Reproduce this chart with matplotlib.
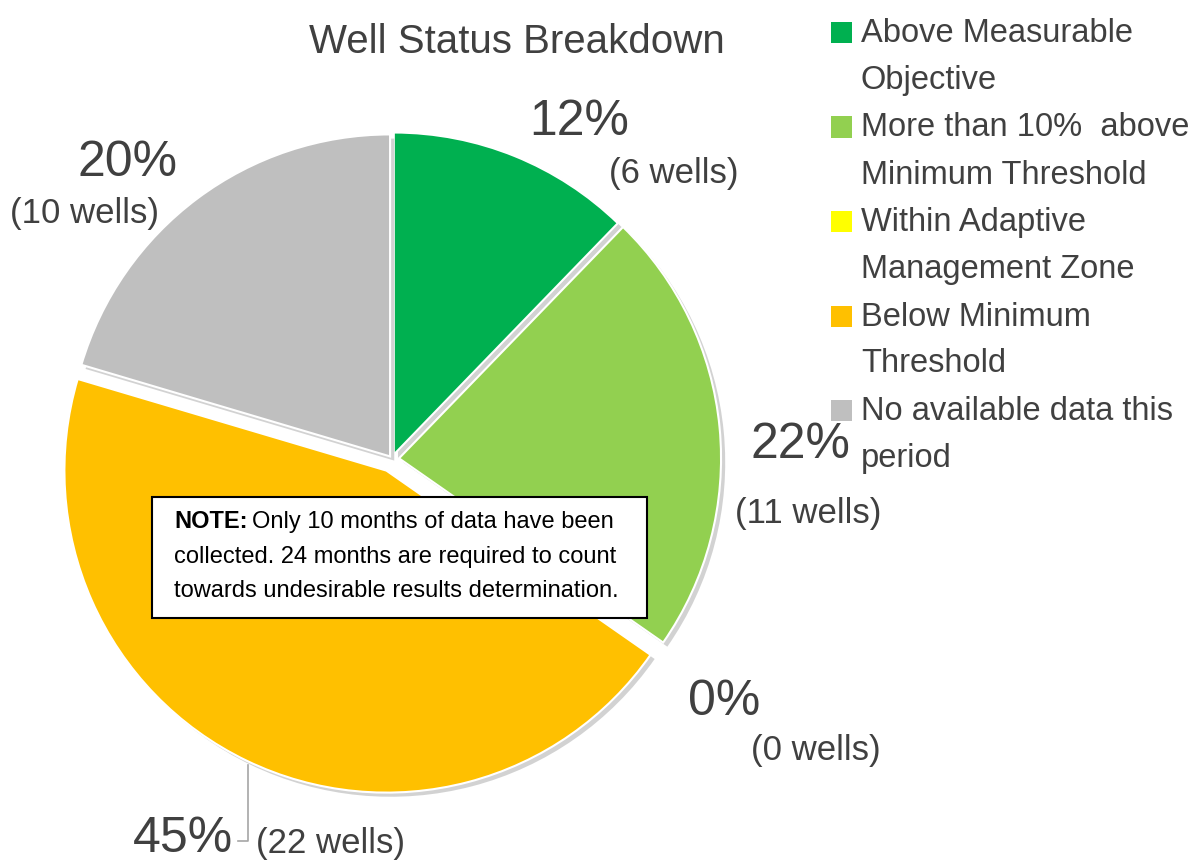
import matplotlib.pyplot as plt
from matplotlib.patches import Rectangle
import matplotlib.patheffects as pe

plt.rcParams['font.family'] = ['Liberation Sans', 'DejaVu Sans']

# Data
categories = ["Above Measurable\nObjective",
              "More than 10%  above\nMinimum Threshold",
              "Within Adaptive\nManagement Zone",
              "Below Minimum\nThreshold",
              "No available data this\nperiod"]
wells = [6, 11, 0, 22, 10]
colors = ["#00B050", "#92D050", "#FFFF00", "#FFC000", "#BFBFBF"]
explode = [0.015, 0.022, 0.0, 0.04, 0.01]

W, H = 1193, 861
TXT = "#404040"


def fx(x):
    return x / W


def fy(y):
    return 1 - y / H


fig = plt.figure(figsize=(W / 100, H / 100), dpi=100)

# pie axes centred on (392, 459) px, radius ~322 px
cx, cy, r, half = 392, 459, 322, 360
ax = fig.add_axes([fx(cx - half), fy(cy + half), 2 * half / W, 2 * half / H])
wedges, _ = ax.pie(wells, colors=colors, startangle=90, counterclock=False,
                   explode=explode, radius=1,
                   wedgeprops=dict(edgecolor="white", linewidth=1.5))
for w in wedges:
    w.set_path_effects([pe.SimplePatchShadow(offset=(3, -3), shadow_rgbFace="#808080", alpha=0.35),
                        pe.Normal()])
ax.set_xlim(-half / r, half / r)
ax.set_ylim(-half / r, half / r)
ax.set_aspect("equal")
ax.axis("off")

# Title
fig.text(fx(517), fy(53), "Well Status Breakdown", ha="center", va="baseline",
         fontsize=29, color=TXT)

# Data labels (percent + well count), baseline positions in px
total = sum(wells)
pct_pos = [(579, 135), (800, 458), (724, 715), (183, 852), (127, 176)]
cnt_pos = [(674, 183), (808, 523), (816, 760), (330, 853), (85, 223)]
for v, p, c in zip(wells, pct_pos, cnt_pos):
    fig.text(fx(p[0]), fy(p[1]), f"{round(100 * v / total)}%", ha="center", va="baseline",
             fontsize=36, color=TXT)
    fig.text(fx(c[0]), fy(c[1]), f"({v} wells)", ha="center", va="baseline",
             fontsize=25, color=TXT)

# leader line for the 45% label
fig.add_artist(plt.Line2D([fx(248), fx(248), fx(238)], [fy(765), fy(841), fy(841)],
                          color="#A6A6A6", lw=1.2))

# Legend (manual so the square lines up with the first text line)
leg_base = [42, 136.5, 231, 325.5, 420]
for lab, col, y in zip(categories, colors, leg_base):
    fig.add_artist(Rectangle((fx(831), fy(y + 1)), 21 / W, 21 / H, facecolor=col,
                             edgecolor="none", transform=fig.transFigure))
    for i, line in enumerate(lab.split("\n")):
        fig.text(fx(861), fy(y + 47 * i), line, ha="left", va="baseline",
                 fontsize=23.5, color=TXT)

# Note box
fig.add_artist(Rectangle((fx(152), fy(618)), 495 / W, 121 / H, facecolor="white",
                         edgecolor="black", lw=1.5, transform=fig.transFigure))
note_lines = ["Only 10 months of data have been",
              "collected. 24 months are required to count",
              "towards undesirable results determination."]
bold = fig.text(fx(174), fy(528), "NOTE:", ha="left", va="baseline", fontsize=17,
                fontweight="bold", color="black")
fig.canvas.draw()
bx = bold.get_window_extent().x1
fig.text(bx / W + 5 / W, fy(528), note_lines[0], ha="left", va="baseline", fontsize=17,
         color="black")
for i, line in enumerate(note_lines[1:], start=1):
    fig.text(fx(174), fy(528 + 34.5 * i), line, ha="left", va="baseline", fontsize=17,
             color="black")

fig.savefig("out.png", dpi=100)
